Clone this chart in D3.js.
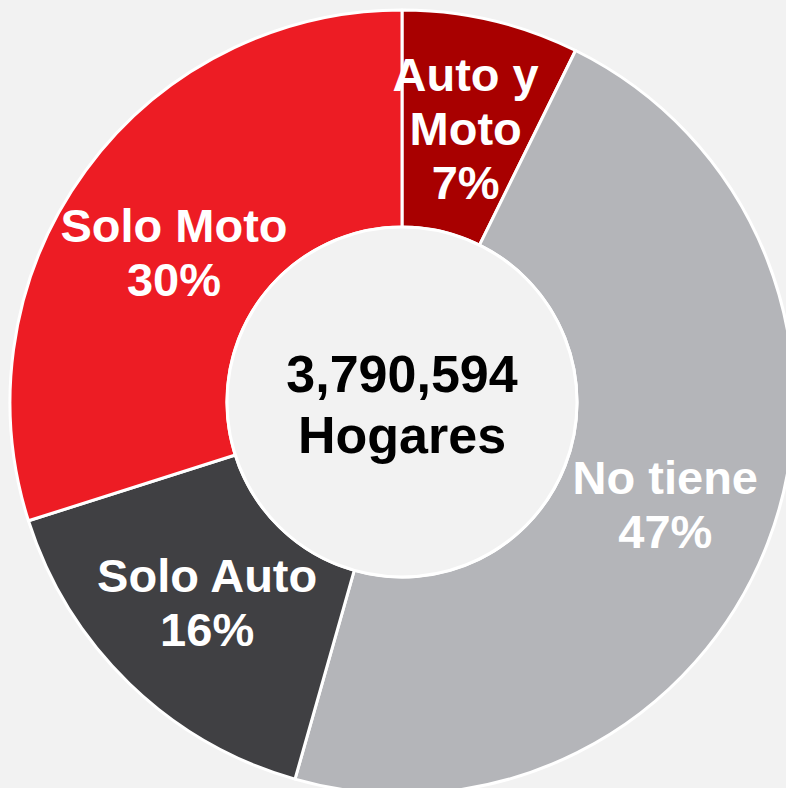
<!DOCTYPE html>
<html>
<head>
<meta charset="utf-8">
<script src="https://cdn.jsdelivr.net/npm/d3@7"></script>
<style>
	html, body { margin:0; padding:0; background:#f2f2f2; overflow:hidden; }
	svg { display:block; }
</style>
</head>
<body>
<div id="chart"></div>
<script>
// slices, clockwise from 12 o'clock
const categories = ['Auto y Moto', 'No tiene', 'Solo Auto', 'Solo Moto'];
const labelLines = [['Auto y', 'Moto'], ['No tiene'], ['Solo Auto'], ['Solo Moto']];
const shares = [7.3, 47.1, 15.7, 29.9];
const sliceColors = ['#a80000', '#b4b5b9', '#404043', '#ed1c24'];
const centerLines = ['3,790,594', 'Hogares'];

let w = 786,
	h = 788,
	cx = 402,
	cy = 402,
	rOuter = 392,
	rInner = 175,
	labelR = 280,
	lineH = 54,
	// small nudges so labels sit where the original placed them
	labelNudge = {'Solo Moto':[-2, 16], 'No tiene':[2, 2]};

const svg = d3.select('#chart').append('svg')
	.attr('width', w)
	.attr('height', h)
	.style('font-family', '"Liberation Sans", Arial, sans-serif');

svg.append('rect').attr('width', w).attr('height', h).attr('fill', '#f2f2f2');

const g = svg.append('g').attr('transform', `translate(${cx},${cy})`);

const pie = d3.pie().sort(null).value(d => d.value);
const data = categories.map((c, i) => ({name:c, value:shares[i], color:sliceColors[i], lines:labelLines[i]}));
const arcs = pie(data);

const arc = d3.arc().innerRadius(rInner).outerRadius(rOuter);
const labelArc = d3.arc().innerRadius(labelR).outerRadius(labelR);

g.selectAll('path.slice')
	.data(arcs)
	.join('path')
	.attr('class', 'slice')
	.attr('d', arc)
	.attr('fill', d => d.data.color)
	.attr('stroke', '#ffffff')
	.attr('stroke-width', 3)
	.attr('stroke-linejoin', 'round');

// center hole
g.append('circle')
	.attr('r', rInner)
	.attr('fill', '#f2f2f2')
	.attr('stroke', '#ffffff')
	.attr('stroke-width', 3);

// slice labels
arcs.forEach(function(a){
	let lines = a.data.lines.concat([Math.round(a.data.value) + '%']);
	let c = labelArc.centroid(a);
	let nudge = labelNudge[a.data.name] || [0, 0];
	let x = c[0] + nudge[0];
	let t = g.append('text')
		.attr('text-anchor', 'middle')
		.attr('fill', '#ffffff')
		.attr('font-weight', 'bold')
		.attr('font-size', 47);
	let y0 = c[1] + nudge[1] - (lines.length - 1) * lineH / 2 + 16;
	lines.forEach(function(l, li){
		t.append('tspan')
			.attr('x', x)
			.attr('y', y0 + li * lineH)
			.text(l);
	});
});

// center text
let ct = g.append('text')
	.attr('text-anchor', 'middle')
	.attr('fill', '#000000')
	.attr('font-weight', 'bold')
	.attr('font-size', 52);
centerLines.forEach(function(l, li){
	ct.append('tspan')
		.attr('x', 0)
		.attr('y', -10 + li * 61)
		.text(l);
});
</script>
</body>
</html>
